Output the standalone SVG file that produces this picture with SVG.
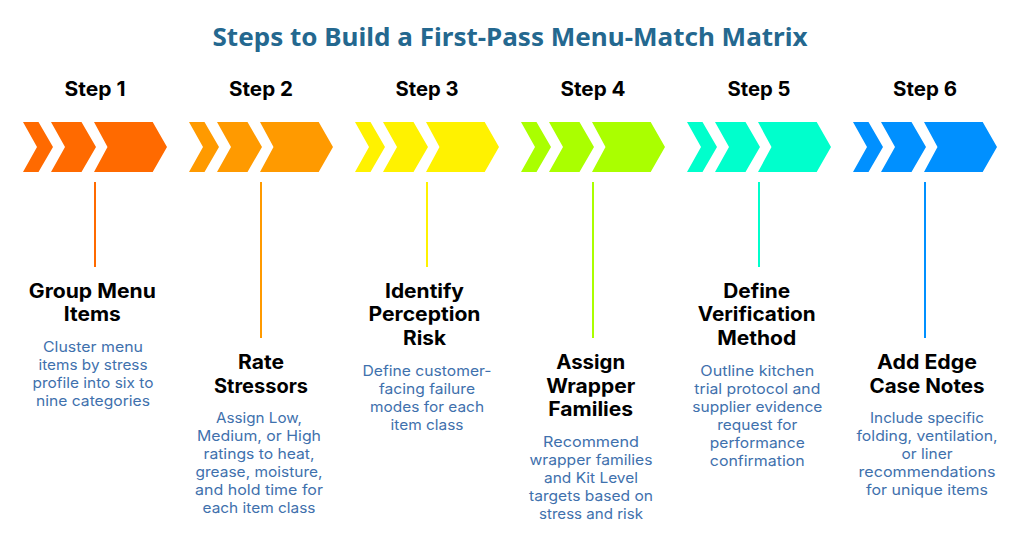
<svg xmlns="http://www.w3.org/2000/svg" width="1024" height="558" viewBox="0 0 1024 558">
<style>
text{text-anchor:middle;font-family:Inter,"Open Sans","Liberation Sans",sans-serif}
.t{font-family:"Noto Sans","Open Sans",sans-serif;font-size:25px;font-weight:700;fill:#24688f}
.s{font-size:20px;font-weight:700;fill:#000}
.h{font-size:19.5px;font-weight:700;fill:#000}
.b{font-size:14.5px;font-weight:400;fill:#3f71ad}
.c{fill:none;stroke-width:2}
</style>
<defs>
<g id="chev">
<polygon points="0,0 15.5,0 30,25 15.5,50 0,50 14,25"/>
<polygon points="28,0 58.5,0 73,25 58.5,50 28,50 42,25"/>
<polygon points="71,0 129.7,0 144,25 129.7,50 71,50 84.5,25"/>
</g>
</defs>
<rect width="1024" height="558" fill="#fff"/>
<text id="title" class="t" x="510" y="46" textLength="595" lengthAdjust="spacingAndGlyphs">Steps to Build a First-Pass Menu-Match Matrix</text>
<g id="connectors">
<path class="c" stroke="#ff6a00" d="M95 182V267"/>
<path class="c" stroke="#ff9a00" d="M261 182V338"/>
<path class="c" stroke="#fff200" d="M427 182V267"/>
<path class="c" stroke="#aaff00" d="M593 182V338"/>
<path class="c" stroke="#00ffcc" d="M759 182V267"/>
<path class="c" stroke="#0090ff" d="M925 182V338"/>
</g>
<g id="step1">
<text class="s" x="95" y="96" textLength="61" lengthAdjust="spacingAndGlyphs">Step 1</text>
<use href="#chev" x="23" y="122" fill="#ff6a00"/>
<text class="h" x="92.3" y="297.500" textLength="127" lengthAdjust="spacingAndGlyphs">Group Menu</text>
<text class="h" x="92.3" y="321" textLength="57" lengthAdjust="spacingAndGlyphs">Items</text>
<text class="b" x="93" y="352" textLength="100" lengthAdjust="spacingAndGlyphs">Cluster menu</text>
<text class="b" x="93" y="370" textLength="109" lengthAdjust="spacingAndGlyphs">items by stress</text>
<text class="b" x="93" y="388" textLength="121" lengthAdjust="spacingAndGlyphs">profile into six to</text>
<text class="b" x="93" y="406" textLength="114" lengthAdjust="spacingAndGlyphs">nine categories</text>
</g>
<g id="step2">
<text class="s" x="261" y="96" textLength="64" lengthAdjust="spacingAndGlyphs">Step 2</text>
<use href="#chev" x="189" y="122" fill="#ff9a00"/>
<text class="h" x="261" y="369" textLength="46" lengthAdjust="spacingAndGlyphs">Rate</text>
<text class="h" x="261" y="392.500" textLength="94" lengthAdjust="spacingAndGlyphs">Stressors</text>
<text class="b" x="259" y="423" textLength="86" lengthAdjust="spacingAndGlyphs">Assign Low,</text>
<text class="b" x="259" y="441" textLength="124" lengthAdjust="spacingAndGlyphs">Medium, or High</text>
<text class="b" x="259" y="459" textLength="111" lengthAdjust="spacingAndGlyphs">ratings to heat,</text>
<text class="b" x="259" y="477" textLength="127" lengthAdjust="spacingAndGlyphs">grease, moisture,</text>
<text class="b" x="259" y="495" textLength="128" lengthAdjust="spacingAndGlyphs">and hold time for</text>
<text class="b" x="259" y="513" textLength="113" lengthAdjust="spacingAndGlyphs">each item class</text>
</g>
<g id="step3">
<text class="s" x="427" y="96" textLength="63" lengthAdjust="spacingAndGlyphs">Step 3</text>
<use href="#chev" x="355" y="122" fill="#fff200"/>
<text class="h" x="424.500" y="297.500" textLength="79" lengthAdjust="spacingAndGlyphs">Identify</text>
<text class="h" x="424.500" y="321" textLength="112" lengthAdjust="spacingAndGlyphs">Perception</text>
<text class="h" x="424.500" y="345" textLength="43" lengthAdjust="spacingAndGlyphs">Risk</text>
<text class="b" x="427" y="376" textLength="129" lengthAdjust="spacingAndGlyphs">Define customer-</text>
<text class="b" x="427" y="394" textLength="96" lengthAdjust="spacingAndGlyphs">facing failure</text>
<text class="b" x="427" y="412" textLength="114" lengthAdjust="spacingAndGlyphs">modes for each</text>
<text class="b" x="427" y="430" textLength="73" lengthAdjust="spacingAndGlyphs">item class</text>
</g>
<g id="step4">
<text class="s" x="593" y="96" textLength="65" lengthAdjust="spacingAndGlyphs">Step 4</text>
<use href="#chev" x="521" y="122" fill="#aaff00"/>
<text class="h" x="590.700" y="369" textLength="69" lengthAdjust="spacingAndGlyphs">Assign</text>
<text class="h" x="590.700" y="392.500" textLength="89" lengthAdjust="spacingAndGlyphs">Wrapper</text>
<text class="h" x="590.700" y="416" textLength="85" lengthAdjust="spacingAndGlyphs">Families</text>
<text class="b" x="591" y="447" textLength="96" lengthAdjust="spacingAndGlyphs">Recommend</text>
<text class="b" x="591" y="465" textLength="123" lengthAdjust="spacingAndGlyphs">wrapper families</text>
<text class="b" x="591" y="483" textLength="94" lengthAdjust="spacingAndGlyphs">and Kit Level</text>
<text class="b" x="591" y="501" textLength="124" lengthAdjust="spacingAndGlyphs">targets based on</text>
<text class="b" x="591" y="519" textLength="104" lengthAdjust="spacingAndGlyphs">stress and risk</text>
</g>
<g id="step5">
<text class="s" x="759" y="96" textLength="63" lengthAdjust="spacingAndGlyphs">Step 5</text>
<use href="#chev" x="687" y="122" fill="#00ffcc"/>
<text class="h" x="756.700" y="297.500" textLength="67" lengthAdjust="spacingAndGlyphs">Define</text>
<text class="h" x="756.700" y="321" textLength="118" lengthAdjust="spacingAndGlyphs">Verification</text>
<text class="h" x="756.700" y="345" textLength="79" lengthAdjust="spacingAndGlyphs">Method</text>
<text class="b" x="757.300" y="376" textLength="114" lengthAdjust="spacingAndGlyphs">Outline kitchen</text>
<text class="b" x="757.300" y="394" textLength="126" lengthAdjust="spacingAndGlyphs">trial protocol and</text>
<text class="b" x="757.300" y="412" textLength="130" lengthAdjust="spacingAndGlyphs">supplier evidence</text>
<text class="b" x="757.300" y="430" textLength="80" lengthAdjust="spacingAndGlyphs">request for</text>
<text class="b" x="757.300" y="448" textLength="95" lengthAdjust="spacingAndGlyphs">performance</text>
<text class="b" x="757.300" y="466" textLength="95" lengthAdjust="spacingAndGlyphs">confirmation</text>
</g>
<g id="step6">
<text class="s" x="925" y="96" textLength="64" lengthAdjust="spacingAndGlyphs">Step 6</text>
<use href="#chev" x="853" y="122" fill="#0090ff"/>
<text class="h" x="927" y="369" textLength="100" lengthAdjust="spacingAndGlyphs">Add Edge</text>
<text class="h" x="927" y="392.500" textLength="115" lengthAdjust="spacingAndGlyphs">Case Notes</text>
<text class="b" x="927" y="423" textLength="114" lengthAdjust="spacingAndGlyphs">Include specific</text>
<text class="b" x="927" y="441" textLength="141" lengthAdjust="spacingAndGlyphs">folding, ventilation,</text>
<text class="b" x="927" y="459" textLength="51" lengthAdjust="spacingAndGlyphs">or liner</text>
<text class="b" x="927" y="477" textLength="137" lengthAdjust="spacingAndGlyphs">recommendations</text>
<text class="b" x="927" y="495" textLength="122" lengthAdjust="spacingAndGlyphs">for unique items</text>
</g>
</svg>
